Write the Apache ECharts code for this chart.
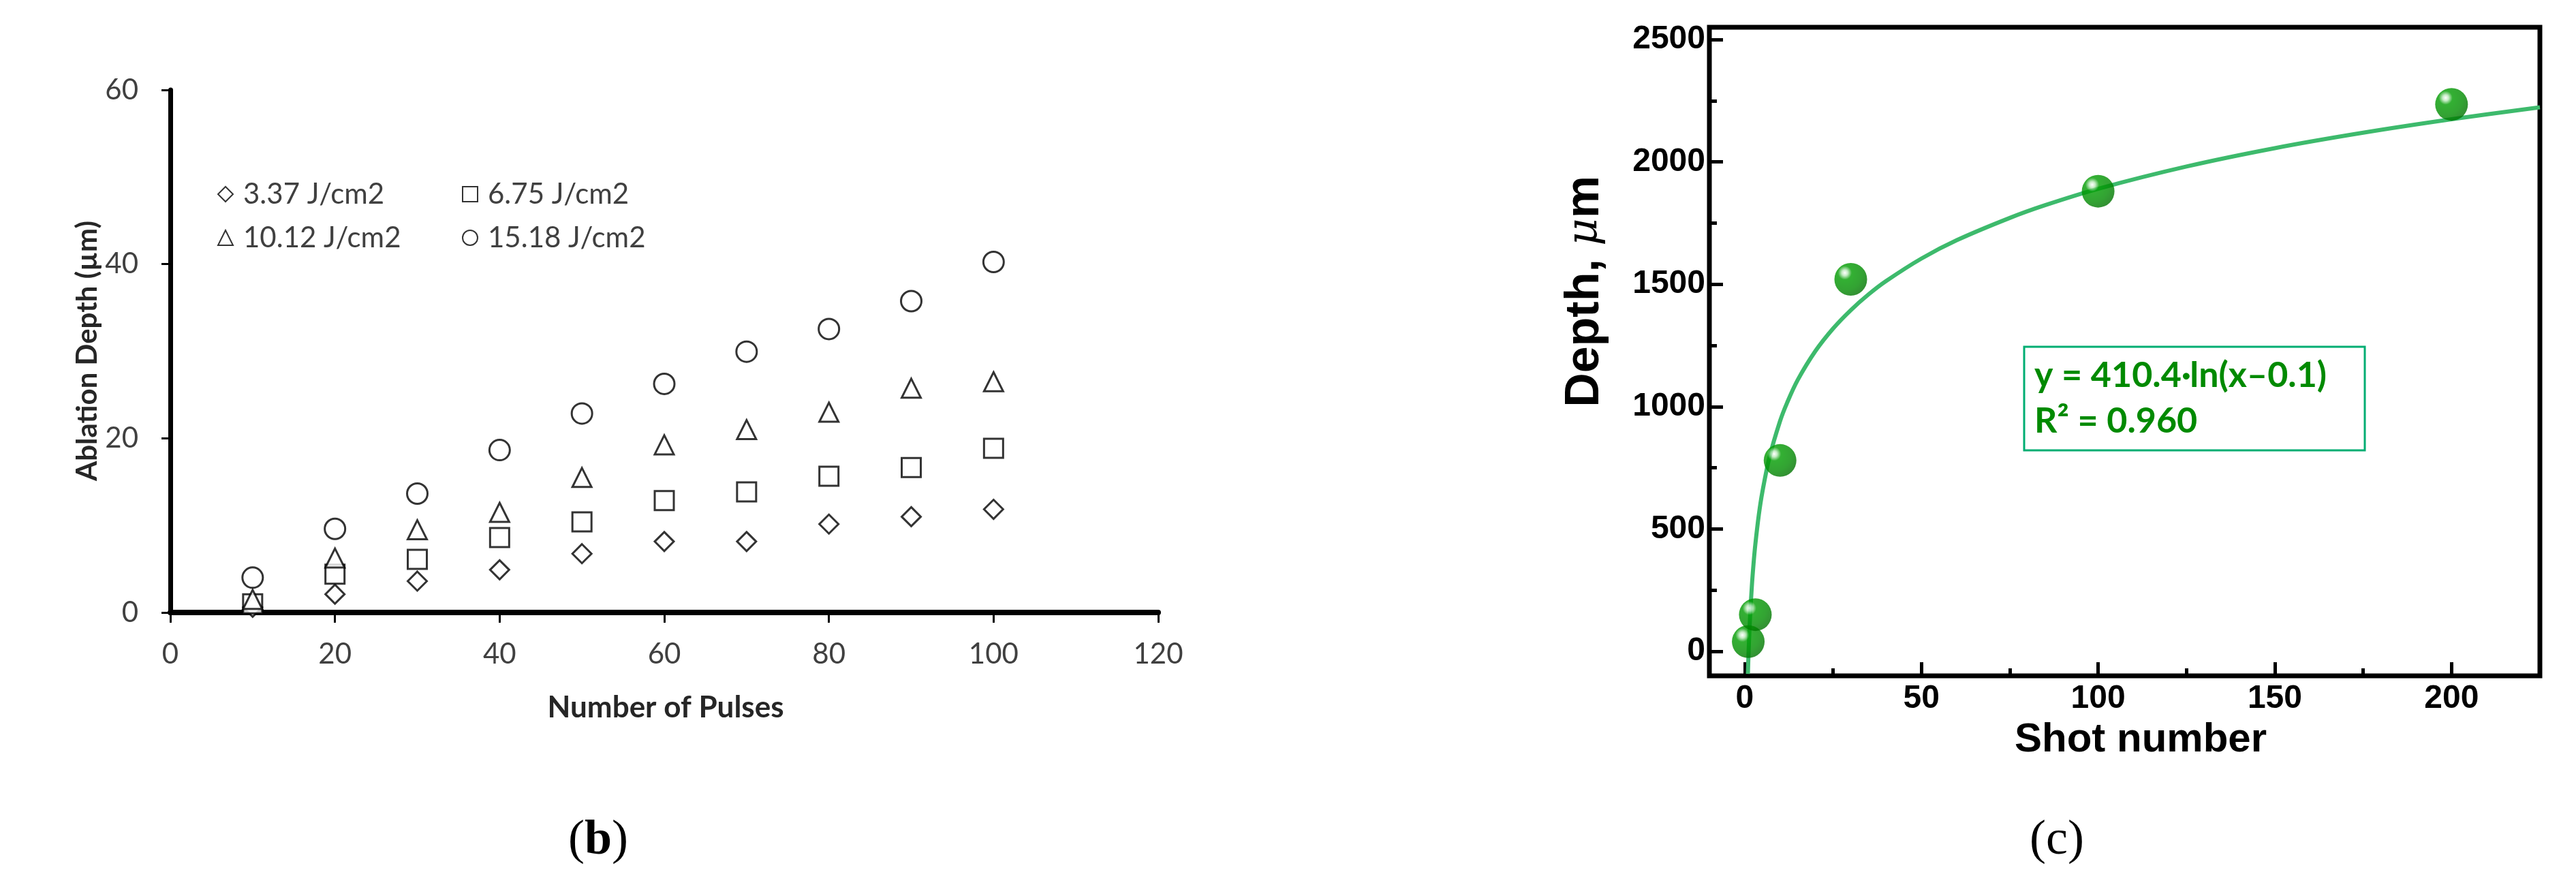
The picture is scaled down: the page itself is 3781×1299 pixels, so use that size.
<!DOCTYPE html>
<html>
<head>
<meta charset="utf-8">
<script src="https://cdn.jsdelivr.net/npm/echarts@6/dist/echarts.min.js"></script>
<style>
html, body { margin: 0; padding: 0; background: #fff; }
#root { width: 3781px; height: 1299px; }
</style>
</head>
<body>
<div id="root"></div>
<script>
// (b) ablation depth vs number of pulses
const pulses = [10, 20, 30, 40, 50, 60, 70, 80, 90, 100];
const fluences = ['3.37 J/cm2', '6.75 J/cm2', '10.12 J/cm2', '15.18 J/cm2'];
const depth337 = [0.6, 2.1, 3.6, 4.9, 6.75, 8.15, 8.15, 10.15, 11.0, 11.85];
const depth675 = [1.0, 4.4, 6.1, 8.6, 10.4, 12.85, 13.85, 15.65, 16.65, 18.85];
const depth1012 = [1.5, 6.25, 9.5, 11.5, 15.5, 19.25, 21.0, 23.0, 25.75, 26.5];
const depth1518 = [4.0, 9.6, 13.65, 18.65, 22.85, 26.25, 29.95, 32.55, 35.75, 40.25];

// (c) depth vs shot number
const shots = [1, 3, 10, 30, 100, 200];
const shotDepth = [40, 150, 780, 1520, 1880, 2235];
const fitX = [0.9, 1, 1.2, 1.5, 2, 2.5, 3, 4, 5, 7, 10, 12, 15, 20, 25, 30, 35, 40, 50, 60, 75, 85, 100, 125, 150, 175, 200, 225];
const fitY = [-92, -43, 39, 138, 263, 359, 437, 559, 652, 793, 941, 1016, 1109, 1227, 1319, 1394, 1458, 1513, 1605, 1680, 1771, 1823, 1890, 1981, 2056, 2119, 2174, 2223];
const shotTicks = [0, 50, 100, 150, 200];
const shotMinor = [25, 75, 125, 175];
const depthTicks = [0, 500, 1000, 1500, 2000, 2500];
const depthMinor = [250, 750, 1250, 1750, 2250];

const symbols = ['diamond', 'rect', 'triangle', 'circle'];
const sizes = [28, 28, 28, 30];
const leftSets = [depth337, depth675, depth1012, depth1518];

let root = document.getElementById('root');
let myCharts = echarts.init(root);

const plain = v => String(v);
const grayText = { color: '#404040', fontFamily: 'Lato', fontSize: 42, formatter: plain };
const boldArial = { color: '#000', fontFamily: 'Liberation Sans', fontWeight: 'bold', fontSize: 48, formatter: plain };
const legendBase = {
    orient: 'vertical',
    top: 259,
    itemGap: 22,
    itemWidth: 22,
    itemHeight: 22,
    textStyle: { color: '#404040', fontFamily: 'Lato', fontSize: 42, padding: [0, 0, 0, 10] },
};

let option = {
    animation: false,
    backgroundColor: '#fff',
    legend: [
        Object.assign({ left: 314, data: [fluences[0], fluences[2]] }, legendBase),
        Object.assign({ left: 673, data: [fluences[1], fluences[3]] }, legendBase),
    ],
    grid: [
        { left: 250, right: 2081, top: 132, bottom: 400 },
        { left: 2509, right: 53, top: 40, bottom: 307, show: true, borderWidth: 7, borderColor: '#000' },
    ],
    xAxis: [
        {
            gridIndex: 0, type: 'value', min: 0, max: 120, interval: 20,
            axisLine: { lineStyle: { color: '#000', width: 8 } },
            axisTick: { length: 15, lineStyle: { color: '#000', width: 3 } },
            axisLabel: Object.assign({ margin: 40 }, grayText),
            splitLine: { show: false },
        },
        {
            gridIndex: 1, type: 'value', min: -10, max: 225, position: 'bottom',
            axisLine: { show: false, onZero: false },
            axisTick: { inside: true, length: 20, customValues: shotTicks, lineStyle: { color: '#000', width: 5 } },
            axisLabel: Object.assign({ margin: 10, customValues: shotTicks }, boldArial),
            splitLine: { show: false },
        },
        {
            gridIndex: 1, type: 'value', min: -10, max: 225, position: 'bottom', offset: 0,
            axisLine: { show: false, onZero: false },
            axisTick: { inside: true, length: 11, customValues: shotMinor, lineStyle: { color: '#000', width: 5 } },
            axisLabel: { show: false },
            splitLine: { show: false },
        },
    ],
    yAxis: [
        {
            gridIndex: 0, type: 'value', min: 0, max: 60, interval: 20,
            axisLine: { show: true, lineStyle: { color: '#000', width: 7 } },
            axisTick: { show: true, length: 13, lineStyle: { color: '#000', width: 3 } },
            axisLabel: Object.assign({ margin: 47 }, grayText),
            splitLine: { show: false },
        },
        {
            gridIndex: 1, type: 'value', min: -100, max: 2550, position: 'left',
            axisLine: { show: false, onZero: false },
            axisTick: { show: true, inside: true, length: 20, customValues: depthTicks, lineStyle: { color: '#000', width: 5 } },
            axisLabel: Object.assign({ margin: 6, customValues: depthTicks }, boldArial),
            splitLine: { show: false },
        },
        {
            gridIndex: 1, type: 'value', min: -100, max: 2550, position: 'left', offset: 0,
            axisLine: { show: false, onZero: false },
            axisTick: { show: true, inside: true, length: 11, customValues: depthMinor, lineStyle: { color: '#000', width: 5 } },
            axisLabel: { show: false },
            splitLine: { show: false },
        },
    ],
    series: [],
    graphic: [
        // left panel titles
        {
            type: 'text', x: 128, y: 515, rotation: Math.PI / 2,
            style: { text: 'Ablation Depth (µm)', fill: '#262626', font: 'bold 42px Lato', align: 'center', verticalAlign: 'middle' },
        },
        {
            type: 'text', x: 977, y: 1039,
            style: { text: 'Number of Pulses', fill: '#262626', font: 'bold 44px Lato', align: 'center', verticalAlign: 'middle' },
        },
        {
            type: 'text', x: 878, y: 1234,
            style: {
                text: '{n|(}{b|b}{n|)}', align: 'center', verticalAlign: 'middle',
                rich: {
                    n: { fontFamily: 'Liberation Serif', fontSize: 72, fill: '#000' },
                    b: { fontFamily: 'Liberation Serif', fontSize: 72, fontWeight: 'bold', fill: '#000' },
                },
            },
        },
        // right panel titles
        {
            type: 'text', x: 2327, y: 428, rotation: Math.PI / 2,
            style: {
                text: '{a|Depth, }{u|μ}{a|m}', align: 'center', verticalAlign: 'middle',
                rich: {
                    a: { fontFamily: 'Liberation Sans', fontWeight: 'bold', fontSize: 70, fill: '#000' },
                    u: { fontFamily: 'DejaVu Serif', fontStyle: 'italic', fontSize: 62, fill: '#000' },
                },
            },
        },
        {
            type: 'text', x: 3142, y: 1086,
            style: { text: 'Shot number', fill: '#000', font: 'bold 60px "Liberation Sans"', align: 'center', verticalAlign: 'middle' },
        },
        {
            type: 'text', x: 3019, y: 1234,
            style: { text: '(c)', fill: '#000', font: '72px "Liberation Serif"', align: 'center', verticalAlign: 'middle' },
        },
        // fit equation box
        {
            type: 'rect', shape: { x: 2971, y: 509, width: 500, height: 152 },
            style: { fill: 'rgba(255,255,255,0)', stroke: '#00ad72', lineWidth: 3 },
            z: 10,
        },
        {
            type: 'text', x: 2986, y: 551, z: 10,
            style: { text: 'y = 410.4·ln(x–0.1)', fill: '#008a00', font: 'bold 52px Lato', align: 'left', verticalAlign: 'middle' },
        },
        {
            type: 'text', x: 2986, y: 618, z: 10,
            style: { text: 'R² = 0.960', fill: '#008a00', font: 'bold 52px Lato', align: 'left', verticalAlign: 'middle' },
        },
    ],
};

for (let k = 0; k < fluences.length; k++) {
    option.series.push({
        type: 'scatter',
        name: fluences[k],
        xAxisIndex: 0,
        yAxisIndex: 0,
        symbol: symbols[k],
        symbolSize: sizes[k],
        itemStyle: { color: '#fff', borderColor: '#000', borderWidth: 3 },
        data: pulses.map((p, i) => [p, leftSets[k][i]]),
    });
}

option.series.push({
    type: 'line',
    name: 'fit',
    xAxisIndex: 1,
    yAxisIndex: 1,
    showSymbol: false,
    smooth: 0.35,
    lineStyle: { color: '#3dba6c', width: 6 },
    data: fitX.map((x, i) => [x, fitY[i]]),
    z: 2,
});

option.series.push({
    type: 'scatter',
    name: 'Depth',
    xAxisIndex: 1,
    yAxisIndex: 1,
    symbolSize: 48,
    itemStyle: {
        color: {
            type: 'radial', x: 0.32, y: 0.3, r: 0.75,
            colorStops: [
                { offset: 0, color: '#ffffff' },
                { offset: 0.12, color: '#b8e8b8' },
                { offset: 0.28, color: '#009c00' },
                { offset: 0.7, color: '#008c00' },
                { offset: 1, color: '#007400' },
            ],
        },
    },
    data: shots.map((s, i) => [s, shotDepth[i]]),
    z: 5,
});

myCharts.setOption(option);
</script>
</body>
</html>
